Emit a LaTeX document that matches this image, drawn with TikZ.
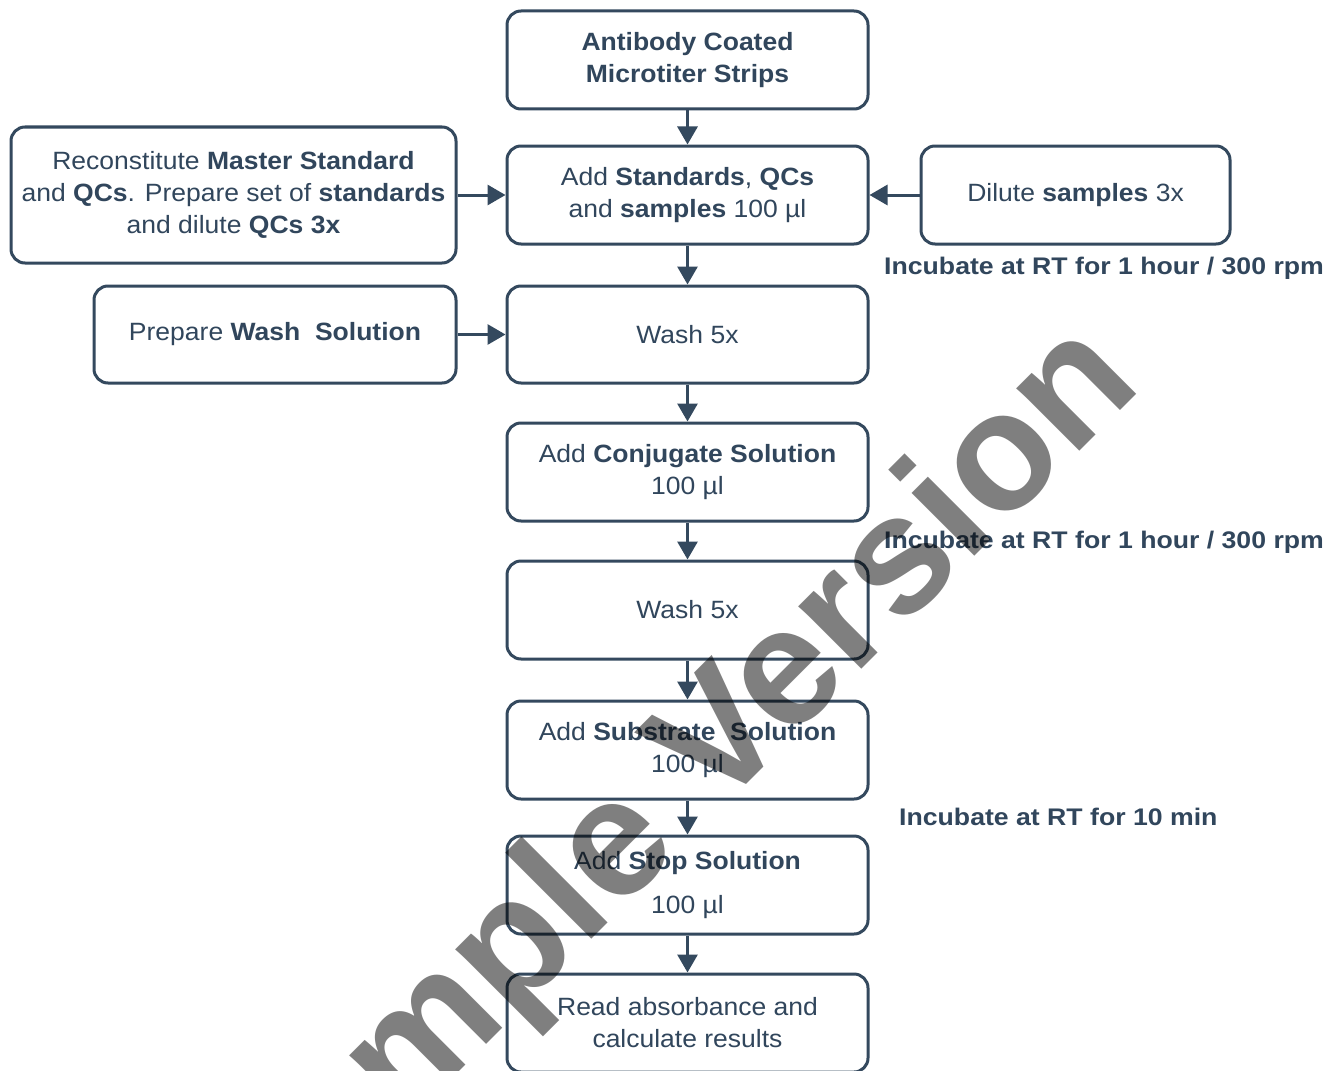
\documentclass[tikz,border=0pt]{standalone}
\usepackage{fontspec}
\setmainfont{Liberation Sans}
\newfontfamily\boxfont{Liberation Sans}[FakeStretch=1.06]
\newfontfamily\lblfont{Liberation Sans}[FakeStretch=1.11]
\newfontfamily\wmfont{Liberation Sans}
\usetikzlibrary{arrows.meta}
\definecolor{lineC}{HTML}{34495E}
\definecolor{txtC}{HTML}{31465C}
\begin{document}
\begin{tikzpicture}[x=1pt,y=-1pt,
  stepbox/.style={draw=lineC, line width=3pt, rounded corners=14pt, align=center, text=txtC,
    font=\boxfont\fontsize{25}{32}\selectfont, inner sep=0pt, minimum width=361pt, minimum height=98pt},
  conn/.style={draw=lineC, line width=3pt, -{Triangle[width=20pt,length=18pt]}},
  note/.style={anchor=base west, text=txtC, font=\lblfont\bfseries\fontsize{24}{28}\selectfont, inner sep=0pt},
]
\clip (0,0) rectangle (1340,1070);
\fill[white] (0,0) rectangle (1340,1070);

\node[stepbox] (n1) at (687.5,60) {\textbf{Antibody Coated}\\\textbf{Microtiter Strips}};
\node[stepbox] (n2) at (687.5,195) {Add \textbf{Standards}, \textbf{QCs}\\and \textbf{samples} 100 µl};
\node[stepbox, minimum width=445pt, minimum height=136pt] (rec) at (233.5,195)
  {Reconstitute \textbf{Master Standard}\\and \textbf{QCs}. Prepare set of \textbf{standards}\\and dilute \textbf{QCs 3x}};
\node[stepbox, minimum width=309pt] (dil) at (1075.5,195) {Dilute \textbf{samples} 3x};
\node[stepbox, minimum width=362pt, minimum height=97pt] (pw) at (275,334.5) {Prepare \textbf{Wash\ \ Solution}};
\node[stepbox, minimum height=97pt] (w1) at (687.5,334.5) {Wash 5x};
\node[stepbox] (cj) at (687.5,472) {Add \textbf{Conjugate Solution}\\100 µl};
\node[stepbox] (w2) at (687.5,610) {Wash 5x};
\node[stepbox] (sub) at (687.5,750) {Add \textbf{Substrate\ \ Solution}\\100 µl};
\node[stepbox] (stp) at (687.5,885) {Add \textbf{Stop Solution}\\[12pt]100 µl};
\node[stepbox] (rd) at (687.5,1023) {Read absorbance and\\calculate results};

\node[note] (l1) at (884,274) {Incubate at RT for 1 hour / 300 rpm};
\node[note] (l2) at (884,548) {Incubate at RT for 1 hour / 300 rpm};
\node[note] (l3) at (899,825) {Incubate at RT for 10 min};

\draw[conn] (n1.south) -- (n2.north);
\draw[conn] (n2.south) -- (w1.north);
\draw[conn] (w1.south) -- (cj.north);
\draw[conn] (cj.south) -- (w2.north);
\draw[conn] (w2.south) -- (sub.north);
\draw[conn] (sub.south) -- (stp.north);
\draw[conn] (stp.south) -- (rd.north);
\draw[conn] (rec.east) -- (n2.west);
\draw[conn] (dil.west) -- (n2.east);
\draw[conn] (pw.east) -- (w1.west);

\node[rotate=45, anchor=base, inner sep=0pt, text=black, text opacity=0.5,
  font=\wmfont\bfseries\fontsize{168}{168}\selectfont] (wm) at (702,829) {Sample Version};
\end{tikzpicture}
\end{document}
